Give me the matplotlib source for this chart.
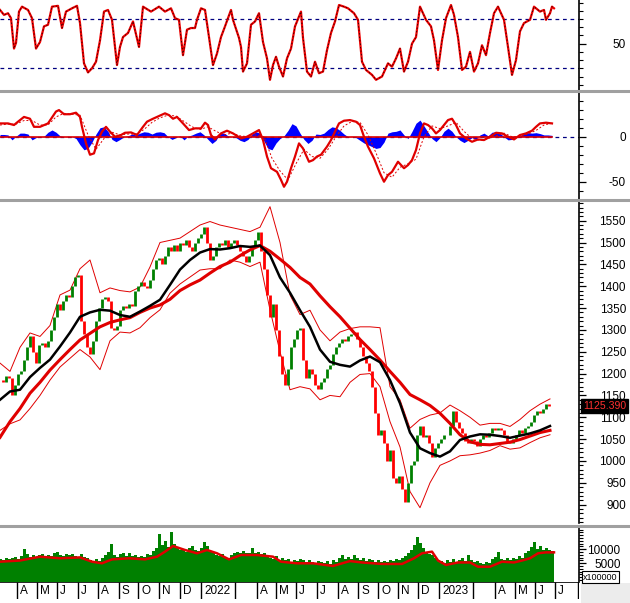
import numpy as np
import matplotlib
matplotlib.use("Agg")
import matplotlib.pyplot as plt
from matplotlib.ticker import MultipleLocator, FixedLocator, FixedFormatter
from matplotlib.transforms import blended_transform_factory

plt.rcParams['font.family'] = ['Liberation Sans', 'DejaVu Sans']

# x unit = trading-day slot on the chart (one slot ~ one pixel)
# closing prices, one every 3 slots
close = [1185, 1180, 1195, 1190, 1150, 1175, 1200, 1205, 1230, 1260, 1285, 1250, 1225, 1265, 1270,
         1260, 1275, 1300, 1330, 1360, 1345, 1365, 1380, 1375, 1400, 1420, 1425, 1320, 1290, 1260,
         1245, 1275, 1320, 1350, 1370, 1375, 1365, 1305, 1300, 1310, 1345, 1355, 1350, 1360, 1355,
         1390, 1400, 1410, 1400, 1395, 1415, 1440, 1460, 1465, 1450, 1470, 1490, 1480, 1495, 1480,
         1500, 1495, 1505, 1490, 1480, 1500, 1510, 1520, 1535, 1500, 1460, 1470, 1490, 1500, 1495,
         1505, 1490, 1500, 1505, 1495, 1480, 1470, 1455, 1470, 1490, 1505, 1525, 1480, 1440, 1380,
         1330, 1360, 1300, 1240, 1200, 1175, 1210, 1260, 1280, 1300, 1305, 1230, 1190, 1210, 1200,
         1175, 1165, 1180, 1190, 1210, 1220, 1245, 1260, 1270, 1280, 1275, 1285, 1290, 1295, 1280,
         1260, 1240, 1225, 1205, 1170, 1110, 1060, 1070, 1040, 1000, 1025, 960, 950, 965, 935,
         905, 950, 990, 1000, 1060, 1080, 1055, 1060, 1040, 1010, 1030, 1040, 1050, 1060, 1060,
         1080, 1115, 1090, 1075, 1065, 1045, 1040, 1050, 1045, 1035, 1050, 1060, 1055, 1065, 1075,
         1070, 1075, 1070, 1060, 1045, 1040, 1050, 1060, 1070, 1065, 1075, 1080, 1090, 1105, 1115,
         1110, 1120, 1130, 1125, 1125.39]
close_step = 3
last_close = 1125.39

# moving averages and bollinger bands, one reading every 10 slots
ma20 = [1140, 1159, 1163, 1192, 1213, 1232, 1262, 1294, 1330, 1340, 1346, 1344, 1334, 1330, 1342,
        1355, 1369, 1403, 1438, 1460, 1477, 1485, 1484, 1487, 1492, 1490, 1493, 1471, 1420, 1385,
        1345, 1307, 1255, 1227, 1220, 1216, 1230, 1239, 1226, 1185, 1132, 1065, 1029, 1018, 1010,
        1022, 1048, 1056, 1061, 1060, 1057, 1053, 1058, 1063, 1070, 1080]
ma50 = [1054, 1090, 1120, 1155, 1180, 1208, 1232, 1255, 1277, 1292, 1307, 1317, 1323, 1328, 1340,
        1350, 1357, 1370, 1390, 1403, 1414, 1430, 1445, 1455, 1470, 1483, 1493, 1480, 1462, 1443,
        1420, 1405, 1378, 1353, 1330, 1304, 1278, 1255, 1231, 1205, 1180, 1152, 1140, 1127, 1109,
        1086, 1060, 1044, 1038, 1037, 1040, 1043, 1049, 1057, 1065, 1070]
bb_up = [1224, 1205, 1260, 1293, 1285, 1310, 1380, 1391, 1440, 1460, 1385, 1396, 1390, 1387, 1398,
         1444, 1500, 1505, 1510, 1525, 1540, 1548, 1540, 1535, 1530, 1525, 1535, 1582, 1500, 1380,
         1335, 1345, 1300, 1275, 1295, 1303, 1307, 1307, 1305, 1170, 1140, 1075, 1095, 1105, 1110,
         1128, 1115, 1100, 1082, 1086, 1086, 1079, 1095, 1115, 1130, 1142]
bb_low = [1070, 1085, 1094, 1120, 1150, 1185, 1215, 1235, 1255, 1238, 1209, 1275, 1295, 1293, 1305,
          1328, 1346, 1384, 1405, 1421, 1437, 1440, 1440, 1460, 1455, 1445, 1455, 1346, 1250, 1163,
          1170, 1165, 1140, 1150, 1147, 1180, 1198, 1200, 1170, 1090, 1032, 930, 893, 950, 990,
          1000, 1012, 1014, 1018, 1024, 1035, 1027, 1030, 1042, 1053, 1060]
line_step = 10

# stochastic oscillator readings
stoch_day = [0, 4, 8, 11, 14, 16, 19, 22, 28, 32, 36, 40, 44, 48, 52, 58, 62, 66, 72, 77, 80, 84,
             88, 92, 96, 100, 104, 108, 112, 117, 120, 123, 128, 133, 139, 143, 151, 159, 165, 171,
             175, 179, 183, 187, 191, 195, 197, 201, 205, 209, 213, 217, 221, 225, 231, 233, 239,
             241, 243, 247, 251, 255, 259, 263, 267, 270, 273, 276, 279, 283, 287, 291, 295, 301,
             303, 307, 311, 315, 319, 323, 327, 331, 335, 339, 344, 348, 354, 358, 362, 366, 372,
             376, 382, 388, 392, 396, 400, 404, 408, 412, 416, 420, 426, 431, 434, 438, 442, 446,
             451, 454, 458, 462, 466, 470, 474, 478, 482, 486, 490, 494, 498, 504, 508, 512, 516,
             520, 524, 530, 534, 540, 544, 546, 550, 552, 554]
stoch_val = [91, 85, 87, 81, 44, 51, 89, 95, 91, 81, 44, 52, 71, 73, 95, 96, 69, 89, 93, 96, 75, 26,
             15, 20, 28, 54, 89, 91, 79, 24, 46, 58, 63, 77, 46, 95, 89, 95, 89, 93, 81, 79, 36,
             67, 69, 69, 79, 93, 91, 58, 24, 38, 58, 71, 91, 79, 57, 46, 16, 26, 73, 77, 87, 52,
             32, 6, 24, 34, 22, 10, 32, 44, 71, 89, 57, 16, 10, 28, 14, 16, 42, 63, 77, 97, 95,
             93, 87, 79, 28, 18, 12, 6, 10, 26, 22, 32, 44, 16, 28, 50, 58, 95, 79, 71, 54, 18,
             54, 81, 97, 85, 58, 18, 22, 40, 16, 26, 48, 36, 63, 87, 95, 79, 46, 12, 30, 65, 75,
             79, 95, 89, 91, 79, 87, 95, 93]

# MACD line, signal line and histogram
macd_day = [0, 8, 14, 18, 24, 30, 34, 40, 48, 56, 59, 64, 70, 76, 80, 82, 86, 90, 94, 98, 102, 106,
            110, 115, 121, 125, 131, 137, 143, 147, 153, 159, 165, 169, 173, 177, 183, 189, 195,
            201, 205, 208, 211, 215, 221, 227, 233, 241, 247, 253, 259, 263, 267, 271, 277, 281,
            284, 287, 291, 295, 299, 303, 309, 313, 317, 321, 327, 331, 335, 339, 344, 350, 356,
            360, 364, 368, 374, 380, 384, 388, 392, 398, 404, 408, 412, 416, 420, 424, 428, 432,
            436, 440, 444, 448, 452, 456, 460, 466, 472, 478, 484, 490, 496, 502, 508, 514, 520,
            526, 532, 536, 540, 546, 552]
macd_val = [14.8, 14.8, 13, 16.7, 22, 20, 11, 11, 14.8, 28, 29.6, 25, 25, 26.7, 22, 11, -7.4, -20,
            -18.5, -3.7, 5.6, 11, 5.6, 0, 1.9, 4.4, 4.8, 1.9, 11, 16.7, 20, 23, 26, 24, 20, 22,
            14.8, 7.4, 9.3, 9.3, 15.6, 13, 1.9, -3, 3.7, 6.7, 3.7, -1.9, 0, 3.7, 7.4, -3.7, -22,
            -35, -39, -48, -55.6, -50, -35, -22, -7.4, -13, -27.8, -26, -22, -20, -11, -3.7, 5.6,
            14.8, 17.8, 18.5, 16.7, 13, 0, -11, -24, -40.7, -50, -42.6, -39, -27.8, -35, -31.5,
            -26, -14.8, 3.7, 14.8, 13, 9.3, 3.7, 7.4, 13, 18.5, 20, 13, 3.7, -1.9, -5.6, -3, -3.7,
            0, 4.4, 3.7, 0, -3, 1.9, 3.7, 6.7, 11, 14.8, 15.6, 14.8]
signal_val = [13, 14, 14, 18, 18, 13, 13, 22, 26, 25, 24, 2, -14, -2, 5, 2, 3, 3, 8, 16, 21, 24, 23,
              17, 11, 8, 11, 6, 2, 4, 1, 0, 2, 0, -24, -38, -48, -30, -14, -22, -24, -14, 0, 12,
              17, 16, 2, -18, -40, -45, -34, -30, -25, 0, 12, 9, 12, 16, 6, -2, -4, -2, 1, 4, 0, 0,
              3, 7, 13, 15]
signal_step = 8
hist_val = [2.5, 2.5, 2, -3.5, 0.5, 4, 4, 3, -3.5, -1, 0, 0.5, 5, 7.5, 5, 1, 0, 0.5, 0, -2, -9, -14.5,
            -13, -6, 3, 10, 11, 6, -3, -5.5, -3, 0, 1, 3, 2, 4, 5.5, 5, 3, 5, 5.5, 4.5, 0, -3, -1,
            1, -3.5, 0.5, 2, 4, 5.5, 2, -3, -7.5, -4, 4, 4, 1, 0, -1, -4, -5.5, -3, 3, 5.5, 4, -5,
            -13, -14.5, -7, -2, 1, 7, 14.5, 12, 4, -3, -7.5, -4, 3, 2.5, 4, 8, 11, 10, 7, 3, 0, 0.5,
            -1, -4, -7, -9, -11, -13, -12, -6, 4, 5.5, 6, 7.5, 2, -2, 6, 15, 18.5, 12, 5, -2, -5.5,
            -1, 6, 9.5, 6, 0, -4, -6.5, -4, -1, -3, 2, 4, 1, 5, 5.5, 4, 0, -3.5, -3, 0, 1, 4, 4.5,
            4, 4.5, 3.5, 2, 2, 1.5]
hist_step = 4

# volume (x100000), one bar every 3 slots, and its moving average
volume = [6500, 6200, 7000, 6400, 6800, 7200, 6600, 7500, 10000, 8200, 7400, 8000, 7200, 7900, 8300,
          7600, 8000, 7700, 8600, 9100, 8000, 7500, 8200, 7800, 8200, 7600, 7200, 8400, 7400, 6800,
          6300, 5800, 6600, 5900, 6800, 7800, 9000, 11800, 8000, 7300, 8200, 8600, 7600, 8800, 7500,
          7900, 7200, 7600, 7300, 8200, 7800, 9400, 10500, 15600, 11500, 12800, 10800, 16200, 12000,
          10800, 9600, 10200, 9000, 10300, 11300, 9800, 9400, 10600, 12600, 11200, 9200, 8600, 8000,
          7600, 8400, 7400, 7000, 7900, 8800, 9000, 8600, 9400, 8800, 8700, 10400, 8600, 9000, 8200,
          8800, 7400, 7000, 6500, 7600, 6200, 6800, 6000, 6500, 5600, 6300, 5800, 6700, 6000, 5400,
          6100, 5600, 5200, 5800, 5400, 5000, 5700, 4800, 6200, 5600, 7000, 8000, 6600, 7400, 6400,
          8000, 6800, 6300, 6900, 5800, 6400, 6000, 5500, 6200, 5600, 5900, 5300, 6100, 5700, 6400,
          6000, 6800, 7600, 8800, 9800, 11600, 14400, 12200, 10400, 9200, 8400, 7800, 7000, 6200,
          5800, 5200, 6000, 5600, 6700, 5500, 6000, 6800, 5700, 7800, 6200, 5400, 5900, 5000, 4800,
          5600, 5200, 6400, 7200, 9100, 6600, 6000, 6800, 6300, 7000, 6500, 7600, 7000, 8600, 9400,
          10800, 12600, 10200, 11000, 9600, 10400, 9800, 9500]
vol_ma_day = [0, 20, 40, 60, 80, 92, 102, 112, 129, 145, 157, 165, 173, 185, 197, 207, 217, 229, 241,
              257, 273, 281, 297, 313, 333, 350, 362, 382, 402, 414, 422, 432, 438, 446, 458, 470,
              478, 490, 502, 514, 522, 530, 538, 546, 554]
vol_ma_val = [5570, 5990, 7360, 6790, 7100, 5570, 5000, 6400, 6790, 6400, 7360, 9150, 11180, 9750,
              8570, 9750, 8570, 6400, 7960, 7960, 7360, 5570, 5000, 5000, 4040, 5800, 5300, 4760,
              4760, 6790, 8570, 9150, 5990, 4400, 5300, 5300, 3780, 3780, 5570, 5300, 5990, 6790,
              8570, 8900, 8900]

# month separators on the date strip
month_pos = [17.3, 36.7, 56.7, 77.7, 98.3, 119, 138.3, 159.3, 180, 201, 235, 257, 276, 296, 317,
             338, 358, 378, 398, 418, 439, 473, 495, 515, 535, 555, 578]
month_lab = ['A', 'M', 'J', 'J', 'A', 'S', 'O', 'N', 'D', '2022', '', 'A', 'M', 'J', 'J',
             'A', 'S', 'O', 'N', 'D', '2023', '', 'A', 'M', 'J', 'J', '']

W, H = 630, 603
X_END = 579
RED = '#e00000'
GREEN = '#008000'
NAVY = '#000080'

fig = plt.figure(figsize=(W / 100, H / 100), dpi=100)


def panel(top, bottom):
    ax = fig.add_axes([0, 1 - bottom / H, X_END / W, (bottom - top) / H])
    ax.set_xlim(0, X_END)
    for s in ['left', 'top', 'bottom']:
        ax.spines[s].set_visible(False)
    ax.spines['right'].set_linewidth(1.2)
    ax.tick_params(axis='x', bottom=False, labelbottom=False)
    ax.yaxis.tick_right()
    ax.tick_params(axis='y', which='major', direction='out', length=5, width=0.9,
                   labelsize=8.5, pad=28.8)
    ax.tick_params(axis='y', which='minor', direction='out', length=3, width=0.8)
    return ax


def right_labels(ax, vals, texts):
    ax.yaxis.set_major_locator(FixedLocator(vals))
    ax.yaxis.set_major_formatter(FixedFormatter(texts))
    for lbl in ax.get_yticklabels():
        lbl.set_horizontalalignment('right')


# stochastic panel
ax_st = panel(0, 90)
ax_st.set_ylim(-6.4, 103.1)
ax_st.axhline(80, color=NAVY, lw=0.9, ls=(0, (3, 3)))
ax_st.axhline(20, color=NAVY, lw=0.9, ls=(0, (3, 3)))
ax_st.plot(stoch_day, stoch_val, color='#ee0000', lw=1.6)
ax_st.plot(stoch_day, stoch_val, color='black', lw=0.5, ls=(0, (2, 3)))
ax_st.yaxis.set_minor_locator(MultipleLocator(10))
right_labels(ax_st, [50], ['50'])

# MACD panel
ax_md = panel(92, 199)
ax_md.set_ylim(-69.2, 49.7)
hist_day = np.arange(len(hist_val)) * hist_step
ax_md.fill_between(hist_day, 0, hist_val, color='#0000ff', lw=0)
ax_md.axhline(0, color=NAVY, lw=0.9, ls=(0, (3, 3)))
ax_md.plot([0, macd_day[-1]], [0, 0], color=RED, lw=1.2)
sig_day = np.arange(len(signal_val)) * signal_step
ax_md.plot(sig_day, signal_val, color=RED, lw=0.7, ls=(0, (2, 2)))
ax_md.plot(macd_day, macd_val, color=RED, lw=1.6)
ax_md.yaxis.set_minor_locator(MultipleLocator(10))
right_labels(ax_md, [0, -50], ['0', '-50'])

# price panel
ax_pr = panel(201, 523)
ax_pr.set_ylim(858, 1595)
line_day = np.arange(len(ma20)) * line_step
ax_pr.plot(line_day, bb_up, color=RED, lw=0.7)
ax_pr.plot(line_day, bb_low, color=RED, lw=0.7)
c = np.array(close, dtype=float)
o = np.r_[c[0], c[:-1]]
cd = np.arange(len(c)) * close_step
up = c >= o
ax_pr.vlines(cd[up], o[up], c[up], color=GREEN, lw=2.0)
ax_pr.vlines(cd[~up], o[~up], c[~up], color='#ff0000', lw=2.0)
ax_pr.plot(line_day, ma50, color=RED, lw=2.2)
ax_pr.plot(line_day, ma20, color='black', lw=1.8)
ax_pr.yaxis.set_minor_locator(MultipleLocator(10))
ticks = list(range(900, 1551, 50))
right_labels(ax_pr, ticks, [str(t) for t in ticks])
tr = blended_transform_factory(fig.transFigure, ax_pr.transData)
ax_pr.text(583 / W, last_close, '%.3f' % last_close, transform=tr, ha='left', va='center',
           color='#ff3030', fontsize=7.6, zorder=10,
           bbox=dict(boxstyle='square,pad=0.2', fc='black', ec='black'))

# volume panel
ax_vo = panel(528, 582)
vbot = -1680
ax_vo.set_ylim(vbot, 17600)
vd = np.arange(len(volume)) * close_step
ax_vo.bar(vd, np.array(volume) - vbot, bottom=vbot, width=close_step, color=GREEN, lw=0)
ax_vo.plot(vol_ma_day, vol_ma_val, color=RED, lw=1.8)
ax_vo.yaxis.set_minor_locator(MultipleLocator(1000))
right_labels(ax_vo, [10000, 5000], ['10000', '5000'])
ax_vo.tick_params(axis='y', which='major', pad=25)

# date strip
ax_dt = fig.add_axes([0, 1 - 599 / H, X_END / W, 17 / H])
ax_dt.set_xlim(0, X_END)
ax_dt.set_ylim(0, 1)
ax_dt.axis('off')
ax_dt.axhline(1, color='black', lw=1.2)
ax_dt.vlines(month_pos, 0, 1, color='black', lw=1)
for p, t in zip(month_pos, month_lab):
    ax_dt.text(p + 3, 0.45, t, ha='left', va='center', fontsize=8.5)

# panel separators
for yy in [91, 200, 525.5]:
    fig.add_artist(plt.Line2D([0, 1], [1 - yy / H] * 2, color='#a0a0a0', lw=2.2))

# corner area and volume multiplier box
fig.add_artist(plt.Rectangle((581 / W, 0), 49 / W, 20 / H, color='#ececec', lw=0))
fig.text(583 / W, 1 - 577 / H, 'x100000', fontsize=6.5, ha='left', va='center',
         bbox=dict(boxstyle='square,pad=0.15', fc='white', ec='black', lw=0.8))

fig.savefig('out.png', dpi=100)
